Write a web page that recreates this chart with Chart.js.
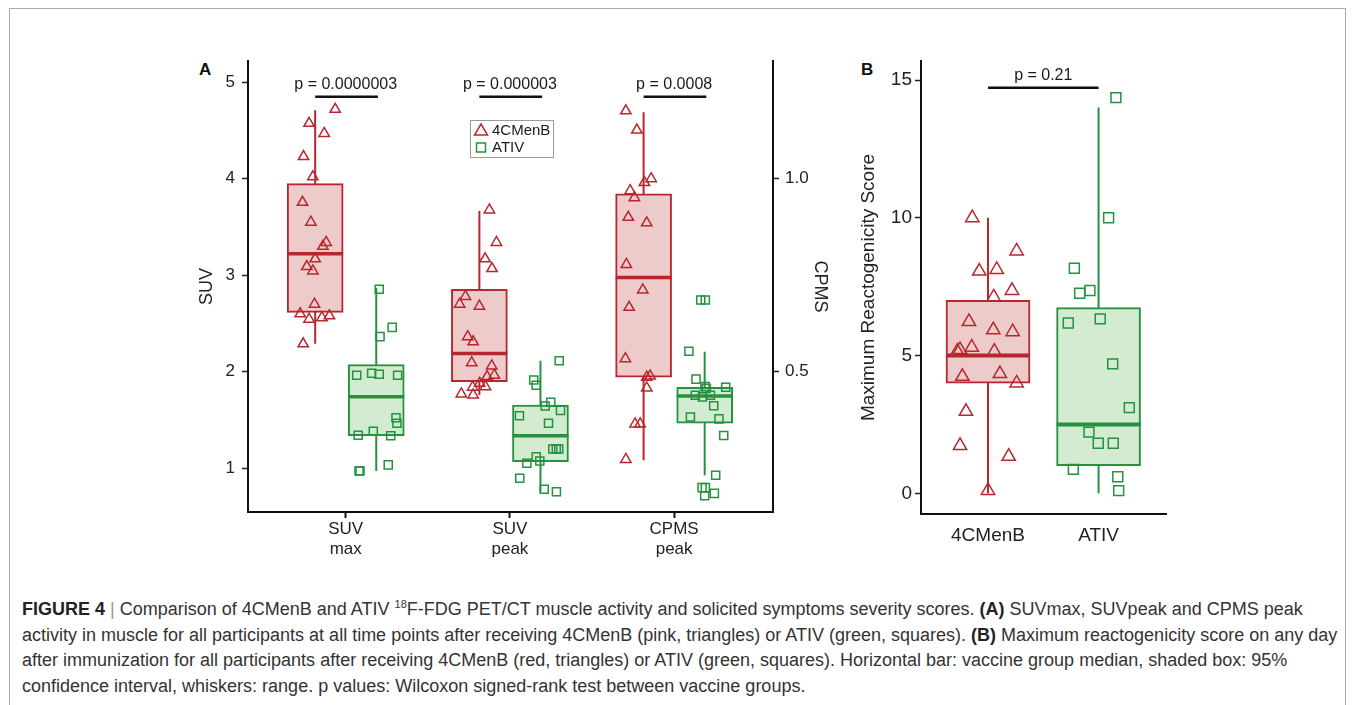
<!DOCTYPE html>
<html>
<head>
<meta charset="utf-8">
<script src="https://cdn.jsdelivr.net/npm/chart.js@4.4.0/dist/chart.umd.min.js"></script>
<style>
  html, body { margin: 0; padding: 0; background: #fff; }
  body { width: 1355px; height: 705px; position: relative; overflow: hidden; font-family: "Liberation Sans", Arial, sans-serif; }
  .frame { position: absolute; left: 9px; top: 8px; width: 1335px; height: 760px; border: 1px solid #aaa; }
  .panel { position: absolute; }
  #wrapA { left: 170px; top: 40px; width: 680px; height: 540px; }
  #wrapB { left: 850px; top: 40px; width: 330px; height: 540px; }
  .tag { position: absolute; font-weight: bold; font-size: 17px; line-height: 17px; color: #111; }
  .caption { position: absolute; left: 22px; top: 597px; font-size: 18px; line-height: 25.5px; color: #333; white-space: nowrap; }
  .caption b { color: #222; }
  .caption .sep { color: #999; }
  .caption sup { font-size: 11px; line-height: 0; }
</style>
</head>
<body>
<div class="frame"></div>
<div class="tag" style="left:199px; top:61px;">A</div>
<div class="tag" style="left:861px; top:61px;">B</div>
<div class="panel" id="wrapA"><canvas id="chartA"></canvas></div>
<div class="panel" id="wrapB"><canvas id="chartB"></canvas></div>
<div class="caption">
<b>FIGURE 4</b> <span class="sep">|</span> Comparison of 4CMenB and ATIV <sup>18</sup>F-FDG PET/CT muscle activity and solicited symptoms severity scores. <b>(A)</b> SUVmax, SUVpeak and CPMS peak<br>
activity in muscle for all participants at all time points after receiving 4CMenB (pink, triangles) or ATIV (green, squares). <b>(B)</b> Maximum reactogenicity score on any day<br>
after immunization for all participants after receiving 4CMenB (red, triangles) or ATIV (green, squares). Horizontal bar: vaccine group median, shaded box: 95%<br>
confidence interval, whiskers: range. p values: Wilcoxon signed-rank test between vaccine groups.
</div>
<script>
// ---- Panel A data ----
const categoriesA = [['SUV', 'max'], ['SUV', 'peak'], ['CPMS', 'peak']];
const groupNames = ['4CMenB', 'ATIV'];
const pLabelsA = ['p = 0.0000003', 'p = 0.000003', 'p = 0.0008'];
const yTicksA = [1, 2, 3, 4, 5];
const y2TicksA = [0.5, 1.0];

const suvMaxMenB = [4.72, 4.575, 4.47, 4.23, 4.02, 3.756, 3.55, 3.34, 3.30, 3.17, 3.09, 3.045, 2.70, 2.60, 2.545, 2.56, 2.58, 2.29];
const suvMaxMenBJitter = [0.122, -0.037, 0.055, -0.071, -0.014, -0.077, -0.026, 0.067, 0.047, 0, -0.051, -0.014, -0.004, -0.091, -0.037, 0.041, 0.087, -0.073];
const suvMaxAtiv = [2.855, 2.46, 2.364, 1.964, 1.984, 1.974, 1.964, 1.524, 1.466, 1.383, 1.342, 1.338, 1.035, 0.972, 0.972];
const suvMaxAtivJitter = [0.018, 0.097, 0.023, -0.119, -0.028, 0.018, 0.130, 0.120, 0.126, -0.018, -0.110, 0.088, 0.073, -0.105, -0.099];

const suvPeakMenB = [3.677, 3.34, 3.17, 3.07, 2.78, 2.70, 2.68, 2.364, 2.31, 2.094, 2.06, 1.964, 1.95, 1.88, 1.845, 1.84, 1.77, 1.76];
const suvPeakMenBJitter = [0.061, 0.104, 0.035, 0.077, -0.085, -0.120, 0, -0.071, -0.038, -0.047, 0.075, 0.091, 0.047, 0.002, 0.037, -0.041, -0.110, -0.038];
const suvPeakAtiv = [2.115, 1.915, 1.86, 1.684, 1.646, 1.60, 1.545, 1.466, 1.20, 1.20, 1.20, 1.12, 1.076, 1.052, 0.896, 0.782, 0.757];
const suvPeakAtivJitter = [0.114, -0.041, -0.026, 0.063, 0.029, 0.122, -0.128, 0.049, 0.075, 0.096, 0.111, -0.026, -0.004, -0.083, -0.126, 0.023, 0.097];

const cpmsMenB = [1.176, 1.126, 1.0, 0.99, 0.969, 0.951, 0.90, 0.886, 0.778, 0.712, 0.667, 0.534, 0.489, 0.486, 0.458, 0.365, 0.365, 0.273];
const cpmsMenBJitter = [-0.108, -0.041, 0.046, 0.005, -0.082, -0.056, -0.093, 0.019, -0.105, -0.005, -0.088, -0.111, 0.040, 0.019, 0.019, -0.052, -0.021, -0.108];
const cpmsAtiv = [0.686, 0.686, 0.553, 0.481, 0.462, 0.46, 0.457, 0.439, 0.435, 0.439, 0.412, 0.383, 0.378, 0.335, 0.232, 0.2, 0.2, 0.179, 0.185];
const cpmsAtivJitter = [-0.024, 0.004, -0.096, -0.053, 0.002, 0.128, 0.010, -0.057, -0.014, 0.035, 0.055, -0.087, 0.087, 0.116, 0.067, -0.016, 0.004, 0, 0.059];

// box stats per category: SUV max, SUV peak, CPMS peak
const menbLow = [2.29, 1.76, 0.271];
const menbQ1 = [2.615, 1.897, 0.486];
const menbMedian = [3.224, 2.19, 0.744];
const menbQ3 = [3.95, 2.855, 0.961];
const menbHigh = [4.71, 3.667, 1.172];
const ativLow = [0.972, 0.757, 0.232];
const ativQ1 = [1.338, 1.068, 0.367];
const ativMedian = [1.742, 1.338, 0.4375];
const ativQ3 = [2.074, 1.656, 0.46];
const ativHigh = [2.87, 2.115, 0.552];

// ---- Panel B data ----
const categoriesB = ['4CMenB', 'ATIV'];
const pLabelsB = ['p = 0.21'];
const yTicksB = [0, 5, 10, 15];
const reactoMenB = [10.0, 8.79, 8.06, 8.12, 7.36, 7.12, 6.23, 5.93, 5.86, 5.30, 5.21, 5.15, 5.15, 4.24, 4.34, 4.0, 2.97, 1.73, 1.34, 0.1];
const reactoMenBJitter = [-0.142, 0.259, -0.079, 0.079, 0.217, 0.052, -0.172, 0.048, 0.223, -0.147, -0.253, -0.278, 0.057, -0.232, 0.108, 0.259, -0.199, -0.253, 0.187, 0];
const reactoAtiv = [14.36, 10.0, 8.17, 7.26, 7.36, 6.18, 6.33, 4.70, 3.11, 2.22, 1.82, 1.82, 0.87, 0.6, 0.1];
const reactoAtivJitter = [0.157, 0.091, -0.219, -0.171, -0.078, -0.274, 0.015, 0.128, 0.278, -0.087, -0.003, 0.133, -0.228, 0.174, 0.182];
const reactoLow = [0, 0];
const reactoQ1 = [4.0, 1.0];
const reactoMedian = [5.0, 2.5];
const reactoQ3 = [7.0, 6.74];
const reactoHigh = [10.0, 14.0];

const FONT = '"Liberation Sans", Arial, sans-serif';
const RED = '#b8272d', PINK = '#eecbcb';
const GREEN = '#26913f', LIGHTGREEN = '#d3ebd0';
const INK = '#222';

// one box + whisker + median + jittered points
function boxGroup(g) {
  const ax = g.axis || 'y';
  return [
    { type: 'line', yAxisID: ax, order: 4, data: [{ x: g.center, y: g.low }, { x: g.center, y: g.high }],
      borderColor: g.color, borderWidth: 2, pointRadius: 0 },
    { type: 'bar', yAxisID: ax, order: 3, data: [{ x: g.center, y: [g.q1, g.q3] }],
      backgroundColor: g.fill, borderColor: g.color, borderWidth: 2, borderSkipped: false,
      barThickness: g.thickness, grouped: false },
    { type: 'line', yAxisID: ax, order: 2, data: [{ x: g.center - g.half, y: g.median }, { x: g.center + g.half, y: g.median }],
      borderColor: g.color, borderWidth: g.medianWidth, pointRadius: 0 },
    { type: 'scatter', yAxisID: ax, order: 1, data: g.values.map((v, i) => ({ x: g.center + g.jitter[i], y: v })),
      pointStyle: g.marker, pointRadius: g.radius, borderColor: g.color, backgroundColor: 'rgba(0,0,0,0)',
      borderWidth: 1.5, showLine: false }
  ];
}

function pBar(x0, x1, y) {
  return { type: 'line', order: 0, data: [{ x: x0, y: y }, { x: x1, y: y }], borderColor: '#111', borderWidth: 2.5, pointRadius: 0 };
}

const annotate = {
  id: 'annotate',
  afterDatasetsDraw(chart, args, opts) {
    const ctx = chart.ctx, xs = chart.scales.x, ys = chart.scales.y;
    ctx.save();
    ctx.fillStyle = '#1a1a1a';
    ctx.font = '16px ' + FONT;
    ctx.textAlign = 'center';
    ctx.textBaseline = 'middle';
    opts.labels.forEach((t, i) => ctx.fillText(t, xs.getPixelForValue(opts.labelX[i]), ys.getPixelForValue(opts.labelY)));
    if (opts.legend) {
      const a = chart.chartArea;
      const lx = a.left + 222, ly = a.top + 59;
      ctx.fillStyle = '#fff';
      ctx.fillRect(lx, ly, 83, 37);
      ctx.strokeStyle = '#9a9a9a';
      ctx.lineWidth = 1;
      ctx.strokeRect(lx + 0.5, ly + 0.5, 83, 37);
      ctx.lineWidth = 1.5;
      ctx.strokeStyle = RED;
      ctx.beginPath();
      ctx.moveTo(lx + 11, ly + 4); ctx.lineTo(lx + 17.5, ly + 15); ctx.lineTo(lx + 4.5, ly + 15); ctx.closePath();
      ctx.stroke();
      ctx.strokeStyle = GREEN;
      ctx.strokeRect(lx + 6.5, ly + 23, 9, 9);
      ctx.fillStyle = '#1a1a1a';
      ctx.textAlign = 'left';
      ctx.font = '15px ' + FONT;
      ctx.fillText(groupNames[0], lx + 22, ly + 10.5);
      ctx.fillText(groupNames[1], lx + 22, ly + 28);
    }
    ctx.restore();
  }
};

const offA = 0.186, halfA = 0.17;
const suvSeries = [
  [suvMaxMenB, suvMaxMenBJitter, suvMaxAtiv, suvMaxAtivJitter],
  [suvPeakMenB, suvPeakMenBJitter, suvPeakAtiv, suvPeakAtivJitter],
  [cpmsMenB, cpmsMenBJitter, cpmsAtiv, cpmsAtivJitter]
];
let datasetsA = [];
suvSeries.forEach((s, i) => {
  const axis = i === 2 ? 'y2' : 'y';
  datasetsA = datasetsA.concat(boxGroup({
    center: i - offA, half: halfA, thickness: 56, medianWidth: 3.5, axis: axis,
    values: s[0], jitter: s[1], low: menbLow[i], q1: menbQ1[i], median: menbMedian[i], q3: menbQ3[i], high: menbHigh[i],
    color: RED, fill: PINK, marker: 'triangle', radius: 6
  }));
  datasetsA = datasetsA.concat(boxGroup({
    center: i + offA, half: halfA, thickness: 56, medianWidth: 3.5, axis: axis,
    values: s[2], jitter: s[3], low: ativLow[i], q1: ativQ1[i], median: ativMedian[i], q3: ativQ3[i], high: ativHigh[i],
    color: GREEN, fill: LIGHTGREEN, marker: 'rect', radius: 5.7
  }));
  datasetsA.push(pBar(i - offA, i + offA + 0.01, 4.85));
});

function yAxis(opts) {
  return Object.assign({
    type: 'linear',
    grid: { drawOnChartArea: false, drawTicks: true, tickLength: 6, tickColor: INK, tickWidth: 1.5, offset: false },
    border: { display: true, color: '#111', width: 2 }
  }, opts);
}

new Chart(document.getElementById('chartA'), {
  type: 'scatter',
  data: { datasets: datasetsA },
  plugins: [annotate],
  options: {
    responsive: true, maintainAspectRatio: false, animation: false, events: [],
    layout: { padding: { top: 21, left: 0, right: 0, bottom: 0 } },
    plugins: {
      legend: { display: false }, tooltip: { enabled: false },
      annotate: { labels: pLabelsA, labelX: [0, 1, 2], labelY: 4.98, legend: true }
    },
    scales: {
      x: {
        type: 'linear', min: -0.595, max: 2.602, offset: false,
        afterBuildTicks: s => { s.ticks = categoriesA.map((c, i) => ({ value: i })); },
        afterFit: s => { s.height = 68; },
        grid: { drawOnChartArea: false, drawTicks: true, tickLength: 6, tickColor: '#111', tickWidth: 2, offset: false },
        border: { display: true, color: '#111', width: 2 },
        ticks: { callback: v => categoriesA[v], font: { size: 17, family: FONT, lineHeight: 1.2 }, color: INK, padding: 1, maxRotation: 0, autoSkip: false }
      },
      y: yAxis({
        position: 'left', min: 0.547, max: 5.22,
        afterBuildTicks: s => { s.ticks = yTicksA.map(v => ({ value: v })); },
        afterFit: s => { s.width = 78; },
        ticks: { font: { size: 17, family: FONT }, color: INK, padding: 7 },
        title: { display: true, text: 'SUV', font: { size: 18, family: FONT }, color: INK, padding: { top: 26, bottom: 0 } }
      }),
      y2: yAxis({
        position: 'right', min: 0.1368, max: 1.305,
        afterBuildTicks: s => { s.ticks = y2TicksA.map(v => ({ value: v })); },
        afterFit: s => { s.width = 77; },
        ticks: { callback: v => v.toFixed(1), font: { size: 17, family: FONT }, color: INK, padding: 6 },
        title: { display: true, text: 'CPMS', font: { size: 18, family: FONT }, color: INK, padding: { top: 19, bottom: 0 } }
      })
    }
  }
});

// ---- Panel B ----
const halfB = 0.38;
let datasetsB = [];
datasetsB = datasetsB.concat(boxGroup({
  center: 0, half: halfB, thickness: 84, medianWidth: 4,
  values: reactoMenB, jitter: reactoMenBJitter, low: reactoLow[0], q1: reactoQ1[0], median: reactoMedian[0], q3: reactoQ3[0], high: reactoHigh[0],
  color: RED, fill: PINK, marker: 'triangle', radius: 7.7
}));
datasetsB = datasetsB.concat(boxGroup({
  center: 1, half: halfB, thickness: 84, medianWidth: 4,
  values: reactoAtiv, jitter: reactoAtivJitter, low: reactoLow[1], q1: reactoQ1[1], median: reactoMedian[1], q3: reactoQ3[1], high: reactoHigh[1],
  color: GREEN, fill: LIGHTGREEN, marker: 'rect', radius: 7
}));
datasetsB.push(pBar(0, 1, 14.72));

new Chart(document.getElementById('chartB'), {
  type: 'scatter',
  data: { datasets: datasetsB },
  plugins: [annotate],
  options: {
    responsive: true, maintainAspectRatio: false, animation: false, events: [],
    layout: { padding: { top: 21, left: 0, right: 14, bottom: 0 } },
    plugins: {
      legend: { display: false }, tooltip: { enabled: false },
      annotate: { labels: pLabelsB, labelX: [0.5], labelY: 15.15, legend: false }
    },
    scales: {
      x: {
        type: 'linear', min: -0.606, max: 1.61, offset: false,
        afterBuildTicks: s => { s.ticks = categoriesB.map((c, i) => ({ value: i })); },
        afterFit: s => { s.height = 66; },
        grid: { drawOnChartArea: false, drawTicks: false, offset: false },
        border: { display: true, color: '#111', width: 2 },
        ticks: { callback: v => categoriesB[v], font: { size: 19, family: FONT }, color: INK, padding: 10, maxRotation: 0, autoSkip: false }
      },
      y: yAxis({
        position: 'left', min: -0.75, max: 15.69,
        afterBuildTicks: s => { s.ticks = yTicksB.map(v => ({ value: v })); },
        afterFit: s => { s.width = 71; },
        ticks: { font: { size: 19, family: FONT }, color: INK, padding: 3 },
        title: { display: true, text: 'Maximum Reactogenicity Score', font: { size: 19, family: FONT }, color: INK, padding: { top: 7.6, bottom: 0 } }
      })
    }
  }
});
</script>
</body>
</html>
